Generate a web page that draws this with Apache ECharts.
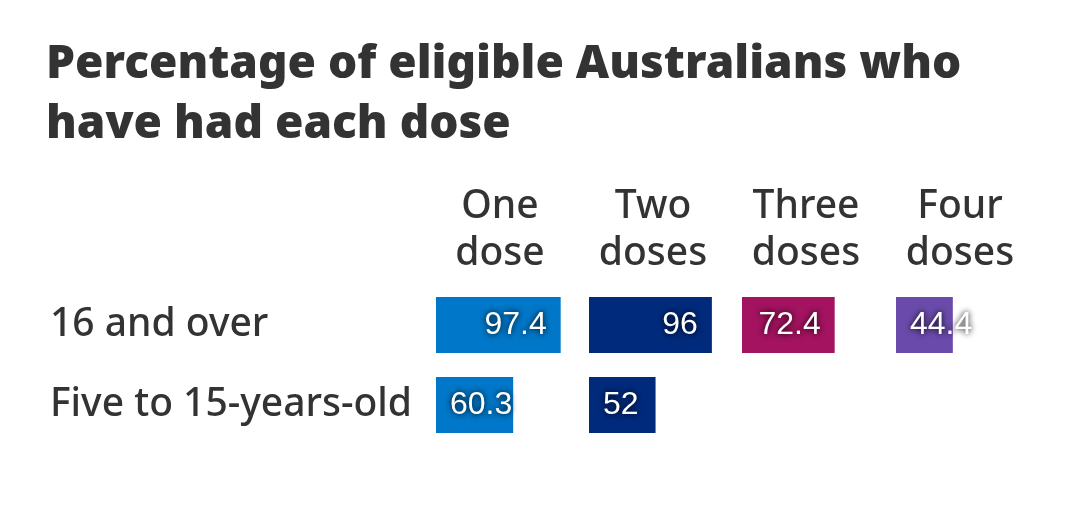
<!DOCTYPE html>
<html><head><meta charset="utf-8">
<script src="https://cdn.jsdelivr.net/npm/echarts@6/dist/echarts.min.js"></script>
<style>html,body{margin:0;padding:0;background:#fff}#c{width:1079px;height:510px}</style>
</head><body><div id="c"></div>
<script>
const titleText = 'Percentage of eligible Australians who\nhave had each dose';
const rows = ['16 and over', 'Five to 15-years-old'];
const doses = ['One\ndose', 'Two\ndoses', 'Three\ndoses', 'Four\ndoses'];
const oneDose = [97.4, 60.3];
const twoDoses = [96, 52];
const threeDoses = [72.4, null];
const fourDoses = [44.4, null];
const colors = ['#0077c8', '#002a7c', '#a3135f', '#6a4bab'];

const seriesValues = [oneDose, twoDoses, threeDoses, fourDoses];
const colLeft = [436, 589, 742, 896];
const colW = 128;

const chart = echarts.init(document.getElementById('c'));
const grids = [], xAxes = [], yAxes = [], series = [];
seriesValues.forEach((vals, i) => {
  grids.push({left: colLeft[i], width: colW, top: 285, height: 160});
  xAxes.push({
    gridIndex: i, type: 'value', min: 0, max: 100, position: 'top',
    axisLine: {show: false}, axisTick: {show: false}, axisLabel: {show: false}, splitLine: {show: false},
    name: doses[i], nameLocation: 'middle', nameGap: 8,
    nameTextStyle: {fontFamily: 'Noto Sans', fontSize: 39, fontWeight: 500, color: '#333', lineHeight: 47, verticalAlign: 'bottom'}
  });
  yAxes.push({
    gridIndex: i, type: 'category', data: rows, inverse: true,
    axisLine: {show: false}, axisTick: {show: false}, splitLine: {show: false},
    axisLabel: i === 0 ? {show: true, align: 'left', margin: 386, fontFamily: 'Noto Sans', fontSize: 39, fontWeight: 500, color: '#333'} : {show: false}
  });
  series.push({
    type: 'bar', xAxisIndex: i, yAxisIndex: i, barWidth: 56,
    itemStyle: {color: colors[i]},
    data: vals.map(v => v == null ? null : {
      value: v,
      label: {position: v < 70 ? 'insideLeft' : 'insideRight'}
    }),
    label: {
      show: true, distance: 14, color: '#fff', fontFamily: 'Liberation Sans', fontSize: 32,
      textShadowColor: '#000', textShadowBlur: 6,
      formatter: p => p.value
    },
    animation: false
  });
});

chart.setOption({
  animation: false,
  title: {text: titleText, left: 41, top: 30,
    textStyle: {fontFamily: 'Noto Sans', fontSize: 46, fontWeight: 900, color: '#333', lineHeight: 60}},
  grid: grids, xAxis: xAxes, yAxis: yAxes, series: series
});
</script></body></html>
